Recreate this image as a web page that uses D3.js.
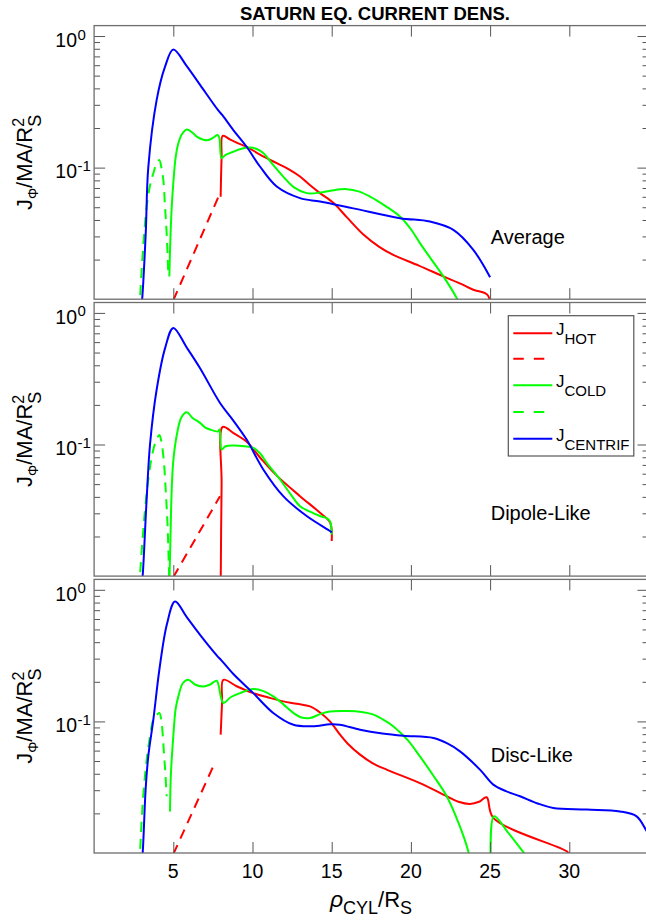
<!DOCTYPE html>
<html><head><meta charset="utf-8">
<script src="https://cdn.jsdelivr.net/npm/d3@7"></script>
<style>
body{margin:0;background:#fff}
svg{display:block}
text{font-family:"Liberation Sans",Arial,Helvetica,sans-serif;fill:#000}
</style>
</head><body>
<svg id="chart" width="646" height="921"></svg>
<script>
// ---------------- DATA ----------------
const titleText = "SATURN EQ. CURRENT DENS.";
const panelNames = ["Average", "Dipole-Like", "Disc-Like"];
const xTicks = [5, 10, 15, 20, 25, 30];
const yMajorTicks = [0.1, 1];
const yMajorLabels = [["10", "-1"], ["10", "0"]];
const yMinorTicks = [0.02,0.03,0.04,0.05,0.06,0.07,0.08,0.09,0.2,0.3,0.4,0.5,0.6,0.7,0.8,0.9];

// Average
const avgHotDash = [[5.0,0.0098],[7.85,0.06]];
const avgHot = [[7.99,0.06],[8.05,0.12],[8.12,0.174],[8.6,0.163],[9.1,0.153],[9.63,0.144],[10.5,0.125],[11.53,0.108],[12.3,0.097],[13.0,0.0855],[13.6,0.074],[14.26,0.064],[15.1,0.054],[15.95,0.042],[17.0,0.031],[18.0,0.025],[18.89,0.0217],[20.5,0.018],[22.05,0.0149],[23.2,0.013],[23.94,0.0118],[24.68,0.0111],[24.9,0.0105],[25.0,0.008]];
const avgColdDash = [[2.85,0.008],[2.9,0.0102],[3.1,0.025],[3.32,0.0506],[3.55,0.075],[3.74,0.0906],[3.95,0.108],[4.12,0.114],[4.25,0.1],[4.37,0.0807],[4.48,0.05],[4.58,0.0318],[4.69,0.0149]];
const avgCold = [[4.75,0.0149],[4.8,0.025],[4.9,0.05],[5.0,0.076],[5.15,0.12],[5.32,0.153],[5.55,0.18],[5.85,0.195],[6.2,0.185],[6.48,0.172],[6.9,0.163],[7.21,0.162],[7.55,0.17],[7.78,0.177],[7.9,0.17],[8.05,0.118],[8.3,0.125],[8.79,0.132],[9.3,0.139],[9.84,0.142],[10.3,0.138],[10.68,0.129],[11.3,0.105],[11.94,0.0855],[12.6,0.071],[13.42,0.064],[14.26,0.0646],[15.0,0.067],[15.95,0.0686],[16.7,0.066],[17.42,0.0602],[18.4,0.051],[19.31,0.0425],[20.0,0.034],[20.57,0.0267],[21.3,0.02],[22.05,0.0149],[22.89,0.0102],[23.1,0.009]];
const avgCentrif = [[2.95,0.008],[3.04,0.0102],[3.26,0.0318],[3.42,0.1],[3.95,0.327],[4.48,0.585],[5.0,0.79],[5.85,0.59],[6.69,0.425],[7.84,0.272],[8.1,0.25],[8.79,0.193],[9.63,0.144],[10.47,0.102],[11.53,0.0718],[13.0,0.0586],[14.26,0.0552],[16.36,0.049],[19.31,0.0413],[21.2,0.0389],[22.68,0.0336],[23.94,0.0237],[25.0,0.0147]];

// Dipole-Like
const dipHotDash = [[5.0,0.0098],[7.95,0.0405]];
const dipHot = [[7.99,0.008],[8.05,0.05],[8.12,0.136],[8.8,0.122],[9.63,0.105],[10.5,0.079],[11.53,0.058],[13.0,0.0405],[14.26,0.0303],[14.9,0.0255],[15.0,0.0185]];
const dipColdDash = [[2.85,0.008],[2.9,0.0102],[3.1,0.022],[3.32,0.043],[3.55,0.07],[3.74,0.0916],[3.95,0.11],[4.12,0.118],[4.25,0.105],[4.41,0.0726],[4.52,0.045],[4.63,0.0255],[4.72,0.012],[4.75,0.009]];
const dipCold = [[4.74,0.008],[4.8,0.015],[4.9,0.0455],[5.0,0.075],[5.21,0.116],[5.5,0.16],[5.85,0.176],[6.2,0.16],[6.69,0.146],[7.0,0.135],[7.32,0.130],[7.84,0.126],[7.92,0.13],[8.05,0.0916],[8.3,0.097],[8.79,0.0983],[9.5,0.097],[10.05,0.0944],[10.5,0.085],[10.9,0.0726],[11.74,0.0542],[12.4,0.042],[13.0,0.034],[13.6,0.031],[14.26,0.0286],[14.7,0.0275],[14.9,0.026],[15.0,0.0207]];
const dipCentrif = [[2.98,0.008],[3.07,0.0102],[3.3,0.035],[3.53,0.1],[3.95,0.262],[4.5,0.55],[5.0,0.769],[5.85,0.545],[6.69,0.38],[7.95,0.207],[8.79,0.152],[9.63,0.109],[10.68,0.0646],[11.94,0.0405],[13.42,0.0286],[14.89,0.022],[15.0,0.0215]];

// Disc-Like
const discHotDash = [[5.0,0.0098],[7.52,0.0455]];
const discHot = [[7.99,0.0793],[8.08,0.14],[8.16,0.207],[9.0,0.185],[10.05,0.164],[11.0,0.152],[11.94,0.142],[12.8,0.136],[13.63,0.13],[14.3,0.116],[14.89,0.1],[15.5,0.08],[16.0,0.068],[16.79,0.0559],[17.6,0.048],[18.47,0.043],[20.57,0.034],[22.26,0.027],[23.0,0.0245],[23.73,0.0236],[24.3,0.0245],[24.78,0.0265],[25.2,0.0185],[29.84,0.0103],[30.0,0.0098]];
const discColdDash = [[2.85,0.008],[2.9,0.0102],[3.1,0.027],[3.32,0.0512],[3.55,0.08],[3.74,0.103],[3.95,0.112],[4.12,0.116],[4.25,0.1],[4.4,0.06],[4.5,0.04],[4.58,0.027]];
const discCold = [[4.79,0.0207],[4.85,0.04],[5.0,0.077],[5.15,0.125],[5.32,0.155],[5.6,0.195],[5.94,0.207],[6.4,0.19],[6.9,0.184],[7.3,0.19],[7.74,0.204],[7.85,0.19],[8.16,0.138],[8.6,0.152],[9.21,0.164],[10.05,0.176],[10.7,0.17],[11.31,0.155],[12.0,0.133],[12.58,0.116],[13.1,0.107],[13.63,0.106],[14.3,0.114],[14.89,0.119],[16.0,0.12],[16.9,0.118],[17.6,0.113],[18.2,0.104],[18.9,0.0916],[19.8,0.072],[20.57,0.0542],[21.4,0.039],[22.26,0.027],[23.0,0.017],[23.62,0.0103],[23.7,0.009]];
const discCold2 = [[25.04,0.009],[25.25,0.019],[26.1,0.0145],[27.06,0.0103],[27.2,0.0098]];
const discCentrif = [[2.98,0.008],[3.07,0.0102],[3.25,0.03],[3.42,0.0542],[3.74,0.103],[4.12,0.247],[4.6,0.55],[5.11,0.815],[5.85,0.62],[6.69,0.455],[7.74,0.318],[8.05,0.29],[8.79,0.229],[10.05,0.164],[11.31,0.116],[12.58,0.0944],[13.8,0.092],[14.89,0.095],[15.5,0.0944],[16.79,0.0865],[18.2,0.081],[19.53,0.0778],[21.42,0.0748],[22.3,0.068],[23.1,0.0592],[24.36,0.043],[25.2,0.0331],[26.0,0.0295],[26.89,0.027],[28.0,0.0238],[28.99,0.022],[31.1,0.0214],[33.2,0.0207],[34.25,0.019],[34.84,0.015],[35.0,0.014]];

// ---------------- STYLE / LAYOUT ----------------
const RED = "#ff0000", GREEN = "#00ff00", BLUE = "#0000ff";
const panels = [
  {name: panelNames[0], series: [
    {d: avgHotDash, c: RED, dash: true}, {d: avgHot, c: RED},
    {d: avgColdDash, c: GREEN, dash: true}, {d: avgCold, c: GREEN},
    {d: avgCentrif, c: BLUE}]},
  {name: panelNames[1], series: [
    {d: dipHotDash, c: RED, dash: true}, {d: dipHot, c: RED},
    {d: dipColdDash, c: GREEN, dash: true}, {d: dipCold, c: GREEN},
    {d: dipCentrif, c: BLUE}]},
  {name: panelNames[2], series: [
    {d: discHotDash, c: RED, dash: true}, {d: discHot, c: RED},
    {d: discColdDash, c: GREEN, dash: true}, {d: discCold, c: GREEN}, {d: discCold2, c: GREEN},
    {d: discCentrif, c: BLUE}]}
];

const L = 94.1, R = 648.5;
const panelTops = [25.6, 302.5, 579.4];
const panelH = 273.6;
const labelY = [244.3, 520, 761.7];
const frameColor = "#6e6e6e", tickColor = "#555";
const DASH = "10,7";

const svg = d3.select("#chart");
const x = d3.scaleLinear().domain([0, 35]).range([L, R]);

function rich(parent, pieces, tx, ty, rotate, anchor) {
  const g = parent.append("g");
  const inner = g.append("g");
  let cx = 0, stackStart = 0;
  pieces.forEach(p => {
    const xp = p.stack ? stackStart : cx;
    const t = inner.append("text").attr("x", xp).attr("y", p.dy || 0)
      .attr("font-size", p.size).text(p.t);
    if (p.italic) t.attr("font-style", "italic");
    if (p.bold) t.attr("font-weight", "bold");
    const w = t.node().getComputedTextLength();
    if (p.stack) cx = Math.max(cx, stackStart + w);
    else { stackStart = cx; cx += w; }
  });
  const off = anchor === "middle" ? -cx / 2 : anchor === "end" ? -cx : 0;
  inner.attr("transform", `translate(${off},0)`);
  g.attr("transform", `translate(${tx},${ty})` + (rotate ? ` rotate(${rotate})` : ""));
  return g;
}

panels.forEach((p, i) => {
  const top = panelTops[i], bot = top + panelH;
  const y = d3.scaleLog().domain([0.01, 1.2]).range([bot, top]);
  const g = svg.append("g");

  const clipId = "clip" + i;
  svg.append("defs").append("clipPath").attr("id", clipId)
    .append("rect").attr("x", L).attr("y", top).attr("width", R - L).attr("height", panelH);

  const line = d3.line().x(d => x(d[0])).y(d => y(d[1])).curve(d3.curveCatmullRom.alpha(0.5));
  const cg = g.append("g").attr("clip-path", `url(#${clipId})`);
  p.series.forEach(s => {
    cg.append("path").attr("d", line(s.d)).attr("fill", "none")
      .attr("stroke", s.c).attr("stroke-width", 2)
      .attr("stroke-dasharray", s.dash ? DASH : null)
      .attr("stroke-linejoin", "round");
  });

  const styleAxis = sel => {
    sel.select(".domain").remove();
    sel.selectAll(".tick line").attr("stroke", tickColor).attr("stroke-width", 1);
    sel.selectAll(".tick text").remove();
  };
  g.append("g").attr("transform", `translate(0,${bot})`)
    .call(d3.axisBottom(x).tickValues(xTicks).tickSize(-11)).call(styleAxis);
  g.append("g").attr("transform", `translate(0,${top})`)
    .call(d3.axisTop(x).tickValues(xTicks).tickSize(-11)).call(styleAxis);
  g.append("g").attr("transform", `translate(${L},0)`)
    .call(d3.axisLeft(y).tickValues(yMajorTicks).tickSize(-11)).call(styleAxis);
  g.append("g").attr("transform", `translate(${L},0)`)
    .call(d3.axisLeft(y).tickValues(yMinorTicks).tickSize(-6)).call(styleAxis);
  g.append("g").attr("transform", `translate(${R},0)`)
    .call(d3.axisRight(y).tickValues(yMajorTicks).tickSize(-11)).call(styleAxis);
  g.append("g").attr("transform", `translate(${R},0)`)
    .call(d3.axisRight(y).tickValues(yMinorTicks).tickSize(-6)).call(styleAxis);

  g.append("rect").attr("x", L).attr("y", top).attr("width", R - L).attr("height", panelH)
    .attr("fill", "none").attr("stroke", frameColor).attr("stroke-width", 1.3);

  yMajorTicks.forEach((v, k) => {
    const ty = y(v);
    g.append("text").attr("x", 77).attr("y", ty + 10.7).attr("text-anchor", "end")
      .attr("font-size", 19.5).text(yMajorLabels[k][0]);
    g.append("text").attr("x", 77.5).attr("y", ty + 3.5)
      .attr("font-size", 15).text(yMajorLabels[k][1]);
  });

  rich(g, [
    {t: "J", size: 22},
    {t: "Φ", size: 14, dy: 6},
    {t: "/MA/R", size: 22},
    {t: "2", size: 16, dy: -8},
    {t: "S", size: 18, dy: 9, stack: true}
  ], 32.3, top + panelH / 2, -90, "middle");

  g.append("text").attr("x", 490.7).attr("y", labelY[i]).attr("font-size", 20).text(p.name);

  if (i === panels.length - 1) {
    xTicks.forEach(v => {
      g.append("text").attr("x", x(v)).attr("y", 878.3).attr("text-anchor", "middle")
        .attr("font-size", 19.5).text(v);
    });
  }
});

// legend (in second panel)
const lg = svg.append("g");
lg.append("rect").attr("x", 508.3).attr("y", 315.7).attr("width", 125.5).attr("height", 140.3)
  .attr("fill", "#fff").attr("stroke", "#555").attr("stroke-width", 1.2);
const legendRows = [
  {c: RED, dash: false, sub: "HOT"},
  {c: RED, dash: true, sub: null},
  {c: GREEN, dash: false, sub: "COLD"},
  {c: GREEN, dash: true, sub: null},
  {c: BLUE, dash: false, sub: "CENTRIF"}
];
const rowY = [333.3, 358.7, 385.3, 412, 438.7];
legendRows.forEach((r, k) => {
  lg.append("line").attr("x1", 513.3).attr("x2", 552.3).attr("y1", rowY[k]).attr("y2", rowY[k])
    .attr("stroke", r.c).attr("stroke-width", 2).attr("stroke-dasharray", r.dash ? "10.5,10" : null);
  if (r.sub) rich(lg, [{t: "J", size: 17}, {t: r.sub, size: 15, dy: 9}], 556, rowY[k] + 2, 0, "start");
});

// title
svg.append("text").attr("x", 375).attr("y", 20).attr("text-anchor", "middle")
  .attr("font-size", 18.5).attr("font-weight", "bold").text(titleText);

// x axis label
rich(svg, [
  {t: "ρ", size: 23, italic: true},
  {t: "CYL", size: 18, dy: 7},
  {t: "/R", size: 22},
  {t: "S", size: 18, dy: 7}
], 371, 906.7, 0, "middle");
</script>
</body></html>
